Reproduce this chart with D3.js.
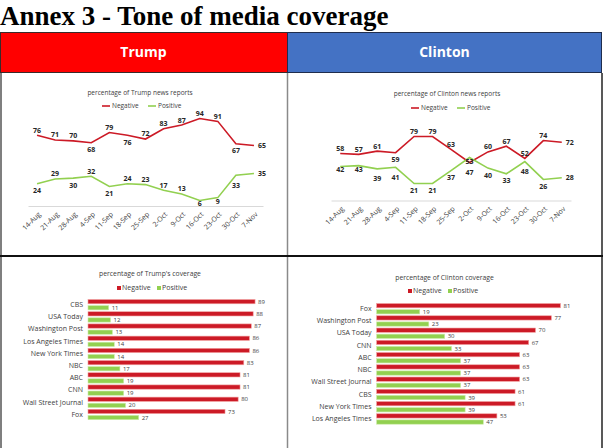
<!DOCTYPE html>
<html>
<head>
<meta charset="utf-8">
<script src="https://cdn.jsdelivr.net/npm/d3@7"></script>
<style>
  body { margin: 0; background: #fff; }
  svg { display: block; }
</style>
</head>
<body>
<div id="chart"></div>
<script>
// weekly tone, share of news reports (%)
var weeks = ["14-Aug", "21-Aug", "28-Aug", "4-Sep", "11-Sep", "18-Sep", "25-Sep", "2-Oct", "9-Oct", "16-Oct", "23-Oct", "30-Oct", "7-Nov"];
var trumpNeg = [76, 71, 70, 68, 79, 76, 72, 83, 87, 94, 91, 67, 65];
var trumpPos = [24, 29, 30, 32, 21, 24, 23, 17, 13, 6, 9, 33, 35];
var clintonNeg = [58, 57, 61, 59, 79, 79, 63, 47, 60, 67, 52, 74, 72];
var clintonPos = [42, 43, 39, 41, 21, 21, 37, 53, 40, 33, 48, 26, 28];

// tone by outlet (%)
var trumpOutlets = ["CBS", "USA Today", "Washington Post", "Los Angeles Times", "New York Times", "NBC", "ABC", "CNN", "Wall Street Journal", "Fox"];
var trumpOutletNeg = [89, 88, 87, 86, 86, 83, 81, 81, 80, 73];
var trumpOutletPos = [11, 12, 13, 14, 14, 17, 19, 19, 20, 27];
var clintonOutlets = ["Fox", "Washington Post", "USA Today", "CNN", "ABC", "NBC", "Wall Street Journal", "CBS", "New York Times", "Los Angeles Times"];
var clintonOutletNeg = [81, 77, 70, 67, 63, 63, 63, 61, 61, 53];
var clintonOutletPos = [19, 23, 30, 33, 37, 37, 37, 39, 39, 47];

// where each data label sits: a = above, b = below, s = just below, d = well below, r = right
var trumpNegPlace = ["a", "a", "a", "b", "a", "b", "a", "a", "a", "a", "a", "b", "r"];
var trumpPosPlace = ["b", "a", "b", "a", "b", "a", "a", "a", "a", "s", "s", "d", "r"];
var clintonNegPlace = ["a", "a", "a", "b", "a", "a", "a", "d", "a", "a", "a", "a", "r"];
var clintonPosPlace = ["s", "s", "d", "d", "b", "b", "b", "s", "b", "b", "d", "b", "r"];
var labelShift = { a: -5, b: 7, s: 3.5, d: 10, r: 0 };

var NEG = "#cc1a26", POS = "#92d050";
var FONT = "'Open Sans', sans-serif";

var svg = d3.select("#chart").append("svg")
  .attr("width", 608)
  .attr("height", 448);

// page title
svg.append("text")
  .attr("x", 0)
  .attr("y", 25)
  .attr("font-family", "'Liberation Serif', 'Times New Roman', serif")
  .attr("font-weight", "bold")
  .attr("font-size", 27)
  .attr("fill", "#000")
  .text("Annex 3 - Tone of media coverage");

// table header
svg.append("rect").attr("x", 0.5).attr("y", 32.5).attr("width", 287).attr("height", 40)
  .attr("fill", "#ff0000").attr("stroke", "#3a2a2a").attr("stroke-width", 1);
svg.append("rect").attr("x", 287.5).attr("y", 32.5).attr("width", 314).attr("height", 40)
  .attr("fill", "#4472c4").attr("stroke", "#1f2d4d").attr("stroke-width", 1);
svg.append("text").attr("x", 143.5).attr("y", 57).attr("text-anchor", "middle")
  .attr("font-family", FONT).attr("font-weight", "bold").attr("font-size", 14)
  .attr("fill", "#fff").text("Trump");
svg.append("text").attr("x", 444.5).attr("y", 57).attr("text-anchor", "middle")
  .attr("font-family", FONT).attr("font-weight", "bold").attr("font-size", 14)
  .attr("fill", "#fff").text("Clinton");

// table grid
svg.append("line").attr("x1", 1).attr("x2", 1).attr("y1", 73).attr("y2", 448)
  .attr("stroke", "#555").attr("stroke-width", 1.5);
svg.append("line").attr("x1", 287.5).attr("x2", 287.5).attr("y1", 73).attr("y2", 448)
  .attr("stroke", "#8a8a8a").attr("stroke-width", 1.5);
svg.append("line").attr("x1", 602).attr("x2", 602).attr("y1", 73).attr("y2", 448)
  .attr("stroke", "#222").attr("stroke-width", 1.5);
svg.append("line").attr("x1", 0).attr("x2", 603).attr("y1", 256).attr("y2", 256)
  .attr("stroke", "#111").attr("stroke-width", 2);

function lineChart(opt) {
  var g = svg.append("g");

  var x = d3.scalePoint()
    .domain(weeks)
    .range([opt.x0, opt.x1])
    .padding(0.5);

  var y = d3.scaleLinear()
    .domain([0, 100])
    .range([opt.base, opt.base - 100 * opt.k]);

  // x axis with slanted dates
  var ax = g.append("g")
    .attr("transform", `translate(0,${opt.base})`)
    .call(d3.axisBottom(x).tickSize(0))
    .attr("font-family", FONT)
    .attr("font-size", 7);
  ax.select(".domain").attr("stroke", "#d9d9d9");
  ax.selectAll("text")
    .attr("x", 0)
    .attr("y", 0)
    .attr("dy", "0.35em")
    .attr("transform", "translate(2,7) rotate(-45)")
    .attr("text-anchor", "end")
    .attr("fill", "#404040");

  var line = d3.line()
    .x((d, i) => x(weeks[i]))
    .y(d => y(d));

  opt.series.forEach(function(s) {
    g.append("path")
      .datum(s.values)
      .attr("fill", "none")
      .attr("stroke", s.color)
      .attr("stroke-width", 1.6)
      .attr("d", line);

    g.selectAll(null)
      .data(s.values)
      .enter()
      .append("text")
      .attr("x", (d, i) => s.place[i] == "r" ? x(weeks[i]) + 4 : x(weeks[i]))
      .attr("y", (d, i) => y(d) + labelShift[s.place[i]])
      .attr("dy", "0.35em")
      .attr("text-anchor", (d, i) => s.place[i] == "r" ? "start" : "middle")
      .attr("font-family", FONT)
      .attr("font-weight", "bold")
      .attr("font-size", 7)
      .attr("fill", "#262626")
      .text(d => d);
  });

  // chart title
  g.append("text")
    .attr("x", opt.titleX)
    .attr("y", opt.titleY)
    .attr("text-anchor", "middle")
    .attr("font-family", FONT)
    .attr("font-size", 6.5)
    .attr("fill", "#404040")
    .text(opt.title);

  // legend
  var lg = g.append("g").attr("transform", `translate(${opt.legendX},${opt.legendY})`);
  [["Negative", NEG, 0], ["Positive", POS, 46]].forEach(function(l) {
    lg.append("line")
      .attr("x1", l[2]).attr("x2", l[2] + 8)
      .attr("stroke", l[1]).attr("stroke-width", 1.6);
    lg.append("text")
      .attr("x", l[2] + 10)
      .attr("dy", "0.35em")
      .attr("font-family", FONT)
      .attr("font-size", 6.5)
      .attr("fill", "#404040")
      .text(l[0]);
  });
}

function barChart(opt) {
  var g = svg.append("g");

  var y = d3.scaleBand()
    .domain(opt.outlets)
    .range([opt.top, opt.top + opt.outlets.length * opt.step]);

  var sub = d3.scaleBand()
    .domain(["neg", "pos"])
    .range([0, y.bandwidth()])
    .paddingInner(0.3)
    .paddingOuter(0.15);

  var x = d3.scaleLinear()
    .domain([0, 100])
    .range([opt.x0, opt.x0 + 100 * opt.k]);

  var ax = g.append("g")
    .attr("transform", `translate(${opt.x0},0)`)
    .call(d3.axisLeft(y).tickSize(0).tickPadding(5))
    .attr("font-family", FONT)
    .attr("font-size", 7);
  ax.select(".domain").remove();
  ax.selectAll("text").attr("fill", "#404040");

  [["neg", opt.neg, NEG, "#f2a0a0"], ["pos", opt.pos, POS, "#cdeaa8"]].forEach(function(s) {
    g.selectAll(null)
      .data(s[1])
      .enter()
      .append("rect")
      .attr("x", x(0))
      .attr("y", (d, i) => y(opt.outlets[i]) + sub(s[0]))
      .attr("width", d => x(d) - x(0))
      .attr("height", sub.bandwidth())
      .attr("fill", s[2])
      .attr("stroke", s[3])
      .attr("stroke-width", 0.6);

    g.selectAll(null)
      .data(s[1])
      .enter()
      .append("text")
      .attr("x", d => x(d) + 3)
      .attr("y", (d, i) => y(opt.outlets[i]) + sub(s[0]) + sub.bandwidth() / 2)
      .attr("dy", "0.35em")
      .attr("font-family", FONT)
      .attr("font-size", 6)
      .attr("fill", "#404040")
      .text(d => d);
  });

  g.append("text")
    .attr("x", opt.titleX)
    .attr("y", opt.titleY)
    .attr("text-anchor", "middle")
    .attr("font-family", FONT)
    .attr("font-size", 6.8)
    .attr("fill", "#404040")
    .text(opt.title);

  var lg = g.append("g").attr("transform", `translate(${opt.legendX},${opt.legendY})`);
  [["Negative", NEG, 0], ["Positive", POS, 40]].forEach(function(l) {
    lg.append("rect")
      .attr("x", l[2]).attr("y", -2)
      .attr("width", 4).attr("height", 4)
      .attr("fill", l[1]);
    lg.append("text")
      .attr("x", l[2] + 5)
      .attr("dy", "0.35em")
      .attr("font-family", FONT)
      .attr("font-size", 7)
      .attr("fill", "#404040")
      .text(l[0]);
  });
}

lineChart({
  x0: 28, x1: 263, base: 206, k: 0.93,
  title: "percentage of Trump news reports", titleX: 140, titleY: 95,
  legendX: 102, legendY: 106,
  series: [
    { values: trumpNeg, color: NEG, place: trumpNegPlace },
    { values: trumpPos, color: POS, place: trumpPosPlace }
  ]
});

lineChart({
  x0: 331, x1: 571, base: 200.5, k: 0.81,
  title: "percentage of Clinton news reports", titleX: 447, titleY: 96,
  legendX: 411, legendY: 108,
  series: [
    { values: clintonNeg, color: NEG, place: clintonNegPlace },
    { values: clintonPos, color: POS, place: clintonPosPlace }
  ]
});

barChart({
  outlets: trumpOutlets, neg: trumpOutletNeg, pos: trumpOutletPos,
  x0: 88, k: 1.877, top: 298.6, step: 12.2,
  title: "percentage of Trump's coverage", titleX: 150, titleY: 276,
  legendX: 117, legendY: 288
});

barChart({
  outlets: clintonOutlets, neg: clintonOutletNeg, pos: clintonOutletPos,
  x0: 376.6, k: 2.27, top: 302.6, step: 12.25,
  title: "percentage of Clinton coverage", titleX: 444.5, titleY: 280,
  legendX: 408, legendY: 291
});
</script>
</body>
</html>
